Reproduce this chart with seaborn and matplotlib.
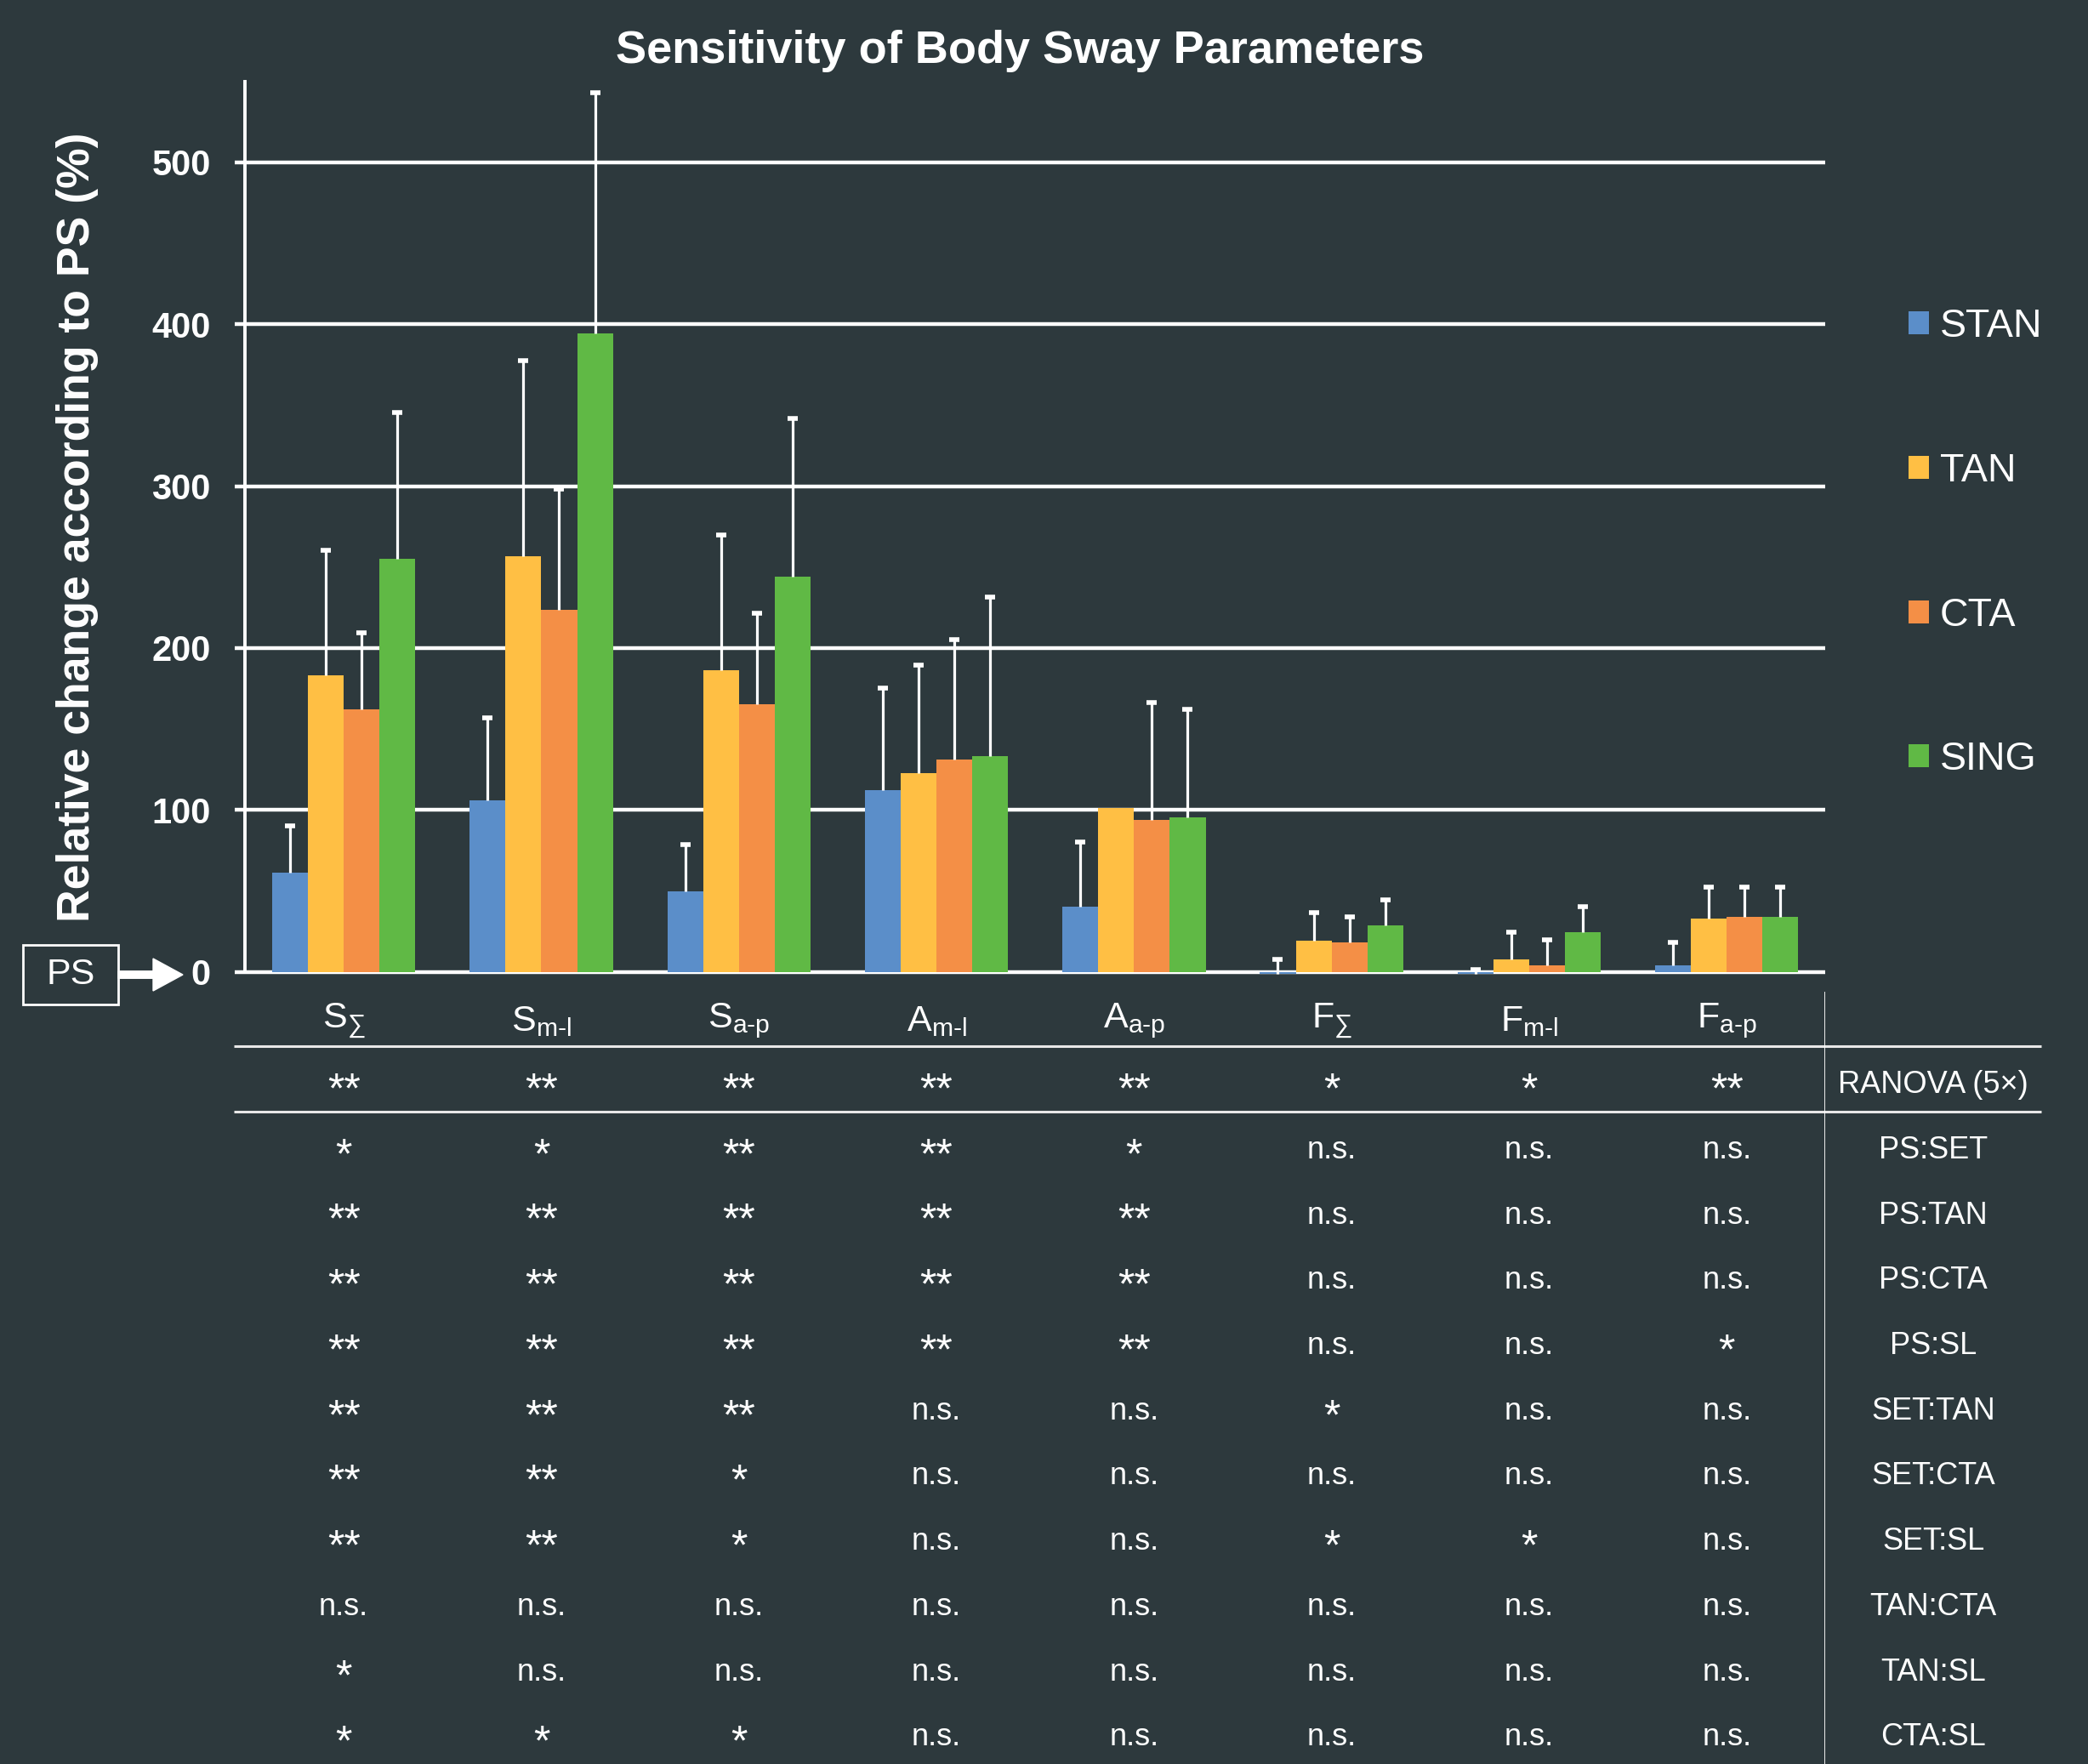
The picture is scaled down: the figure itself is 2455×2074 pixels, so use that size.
import numpy as np
import pandas as pd
import matplotlib
matplotlib.use("Agg")
import matplotlib.pyplot as plt
import seaborn as sns
from matplotlib.patches import FancyArrow, Rectangle

# parameters (categories) and conditions (hue)
params = ["S_sum", "S_ml", "S_ap", "A_ml", "A_ap", "F_sum", "F_ml", "F_ap"]
param_labels = [r"$S_{∑}$", r"$S_{m\text{-}l}$", r"$S_{a\text{-}p}$", r"$A_{m\text{-}l}$",
                r"$A_{a\text{-}p}$", r"$F_{∑}$", r"$F_{m\text{-}l}$", r"$F_{a\text{-}p}$"]
groups = ["STAN", "TAN", "CTA", "SING"]
colors = ["#5b8ec9", "#ffbf44", "#f48f46", "#60b945"]

# mean relative change (%) and SD (upper error bar)
stan = [61.4, 106.1, 49.5, 112.4, 40.0, -1.5, -1.5, 4.0]
tan = [183.3, 256.5, 186.5, 122.7, 101.3, 19.0, 7.5, 32.9]
cta = [162.3, 223.7, 165.5, 131.0, 93.8, 18.2, 4.0, 34.0]
sing = [255.3, 394.3, 243.9, 133.4, 95.4, 28.5, 24.5, 34.0]
stan_sd = [28.5, 50.7, 28.9, 62.6, 40.4, 9.4, 2.7, 14.2]
tan_sd = [77.2, 120.8, 83.1, 66.9, np.nan, 17.8, 17.0, 19.4]
cta_sd = [47.1, 74.4, 56.2, 74.0, 72.5, 15.8, 16.0, 18.3]
sing_sd = [89.9, 148.5, 97.7, 97.8, 66.9, 16.2, 15.9, 18.3]

# significance table
row_names = ["RANOVA (5×)", "PS:SET", "PS:TAN", "PS:CTA", "PS:SL", "SET:TAN",
             "SET:CTA", "SET:SL", "TAN:CTA", "TAN:SL", "CTA:SL"]
sig_rows = [
    ["**", "**", "**", "**", "**", "*", "*", "**"],
    ["*", "*", "**", "**", "*", "n.s.", "n.s.", "n.s."],
    ["**", "**", "**", "**", "**", "n.s.", "n.s.", "n.s."],
    ["**", "**", "**", "**", "**", "n.s.", "n.s.", "n.s."],
    ["**", "**", "**", "**", "**", "n.s.", "n.s.", "*"],
    ["**", "**", "**", "n.s.", "n.s.", "*", "n.s.", "n.s."],
    ["**", "**", "*", "n.s.", "n.s.", "n.s.", "n.s.", "n.s."],
    ["**", "**", "*", "n.s.", "n.s.", "*", "*", "n.s."],
    ["n.s.", "n.s.", "n.s.", "n.s.", "n.s.", "n.s.", "n.s.", "n.s."],
    ["*", "n.s.", "n.s.", "n.s.", "n.s.", "n.s.", "n.s.", "n.s."],
    ["*", "*", "*", "n.s.", "n.s.", "n.s.", "n.s.", "n.s."],
]

bg = "#2d393d"
sns.set_style("dark", rc={"figure.facecolor": bg, "axes.facecolor": bg,
                          "text.color": "white", "axes.labelcolor": "white",
                          "xtick.color": "white", "ytick.color": "white"})
plt.rcParams["font.family"] = ["Liberation Sans", "DejaVu Sans"]
plt.rcParams["mathtext.fontset"] = "custom"
plt.rcParams["mathtext.rm"] = "Liberation Sans"
plt.rcParams["mathtext.default"] = "regular"

df = pd.DataFrame({
    "param": np.tile(params, 4),
    "group": np.repeat(groups, len(params)),
    "value": stan + tan + cta + sing,
})
sds = [stan_sd, tan_sd, cta_sd, sing_sd]
means = [stan, tan, cta, sing]

fig = plt.figure(figsize=(24.55, 20.74), dpi=100)
ax = fig.add_axes([0.1173, 0.4399, 0.757, 0.514])

sns.barplot(data=df, x="param", y="value", hue="group", order=params, hue_order=groups,
            palette=colors, saturation=1, width=0.725, linewidth=0, errorbar=None, ax=ax)

# one-sided error bars (upper cap only)
for cont, m, sd in zip(ax.containers, means, sds):
    xs = [p.get_x() + p.get_width() / 2 for p in cont.patches]
    eb = ax.errorbar(xs, m, yerr=[np.zeros(len(sd)), sd], fmt="none", ecolor="white",
                     elinewidth=2.3, capsize=4.5, capthick=4, zorder=3)
    eb[1][0].set_visible(False)

ax.set_xlim(-0.5, 7.5)
ax.set_ylim(-10, 550)
ax.set_yticks([0, 100, 200, 300, 400, 500])
ax.grid(axis="y", color="white", lw=3.2)
ax.grid(axis="x", visible=False)
ax.set_axisbelow(True)
ax.tick_params(axis="y", length=9, width=3.2, pad=20, labelsize=30, left=True)
for lab in ax.get_yticklabels():
    lab.set_fontweight("bold")
ax.tick_params(axis="x", bottom=False, labelbottom=False)
for s in ["top", "right", "bottom"]:
    ax.spines[s].set_visible(False)
ax.spines["left"].set_color("white")
ax.spines["left"].set_linewidth(2.8)
ax.spines["left"].set_bounds(0, 550)
ax.set_xlabel("")
ax.set_ylabel("")

handles, labels = ax.get_legend_handles_labels()
ax.legend(handles, labels, loc="center left", bbox_to_anchor=(0.914, 0.692),
          bbox_transform=fig.transFigure, frameon=False, fontsize=33.5,
          labelspacing=2.7, handlelength=0.52, handleheight=0.52,
          handletextpad=0.28, borderpad=0, borderaxespad=0)

fig.text(0.4885, 0.971, "Sensitivity of Body Sway Parameters", ha="center", va="center",
         fontsize=39, fontweight="bold", color="white")
fig.text(0.037, 0.701, "Relative change according to PS (%)", rotation=90, ha="center",
         va="center", fontsize=38.5, fontweight="bold", color="white")

# PS box and arrow
fig.add_artist(Rectangle((27 / 2455, 0.4306), 112 / 2455, 0.0337, transform=fig.transFigure,
                         fc="none", ec="white", lw=2))
fig.text(83 / 2455, 0.4474, "PS", ha="center", va="center", fontsize=31, color="white")
fig.add_artist(FancyArrow(1.39, 9.28, 0.76, 0, width=0.085, head_width=0.38,
                          head_length=0.35, length_includes_head=True, color="white",
                          transform=fig.dpi_scale_trans))

# table
tax = fig.add_axes([0.1173, 0.0, 0.757, 0.4377])
tax.set_facecolor(bg)
tax.set_xlim(-0.5, 7.5)
tax.set_ylim(11.408, -0.4286)
tax.axis("off")
for i, lab in enumerate(param_labels):
    tax.text(i, 0.02, lab, ha="center", va="center", fontsize=31, color="white")
for r, (name, row) in enumerate(zip(row_names, sig_rows), start=1):
    for i, s in enumerate(row):
        if s == "n.s.":
            tax.text(i, r, s, ha="center", va="center", fontsize=26, color="white")
        else:
            tax.text(i, r + 0.1, s, ha="center", va="center", fontsize=36, color="white")
    tax.text(8.046, r, name, ha="center", va="center", fontsize=26, color="white",
             clip_on=False)
tax.hlines([0.408, 1.408], -0.554, 8.59, color="#e8e8e8", lw=2.2, clip_on=False)
tax.axvline(7.5, color="white", lw=2)

fig.savefig("out.png", dpi=100, facecolor=bg)
